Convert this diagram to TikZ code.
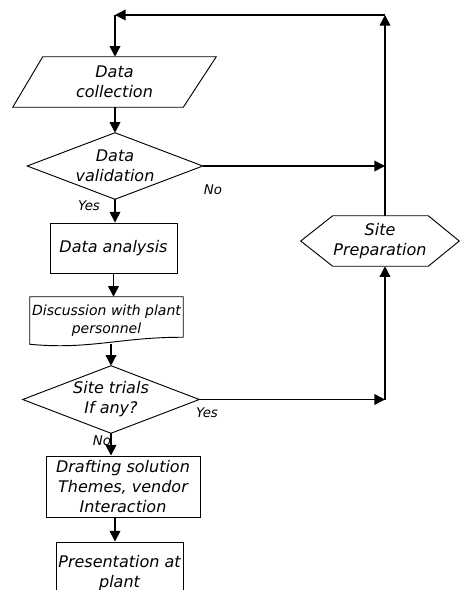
\documentclass[tikz,border=0pt]{standalone}
\usepackage{fontspec}
\setmainfont{DejaVu Sans}
\usetikzlibrary{arrows.meta}
\begin{document}
\begin{tikzpicture}[x=0.75pt,y=-0.75pt,
  area/.style={inner sep=0pt,align=center,font=\itshape\fontsize{12}{15}\selectfont},
  smallarea/.style={inner sep=0pt,align=center,font=\itshape\fontsize{10.5}{13.5}\selectfont},
  lbl/.style={inner sep=0pt,font=\itshape\fontsize{10}{12}\selectfont},
  outline/.style={line width=0.7pt},
  arr/.style={line width=1.2pt,-{Triangle[length=8pt,width=8pt]}}]
\useasboundingbox (0,0) rectangle (460,590);
\clip (0,0) rectangle (460,590);
% nodes
\node[area,minimum width=152.25pt,minimum height=37.5pt] (dc) at (114.5,82) {Data\\collection};
\node[area,minimum width=131.25pt,minimum height=49.5pt] (dv) at (115,166) {Data\\validation};
\node[area,draw,outline,minimum width=95.25pt,minimum height=37.5pt] (da) at (113.5,248) {Data analysis};
\node[smallarea,minimum width=114.75pt,minimum height=35.25pt] (dp) at (106.5,320.5) {Discussion with plant\\personnel};
\node[area,minimum width=132pt,minimum height=50.25pt] (st) at (111,399.5) {Site trials\\If any?};
\node[area,draw,outline,minimum width=115.5pt,minimum height=45.75pt] (ds) at (123,486.5) {Drafting solution\\Themes, vendor\\Interaction};
\node[area,draw,outline,minimum width=95.25pt,minimum height=43.5pt,text depth=0pt] (pr) at (119.5,571) {\raisebox{8pt}{\begin{tabular}{@{}c@{}}Presentation at\\plant\end{tabular}}};
\node[area,minimum width=118.5pt,minimum height=37.5pt] (sp) at (380,241) {Site\\Preparation};
% outlines
\draw[outline] ([xshift=22.5pt]dc.north west) -- (dc.north east) -- ([xshift=-24.75pt]dc.south east) -- (dc.south west) -- cycle;
\draw[outline] (dv.north) -- (dv.east) -- (dv.south) -- (dv.west) -- cycle;
\draw[outline] (st.north) -- (st.east) -- (st.south) -- (st.west) -- cycle;
\draw[outline] (dp.north west) -- (dp.north east) -- ([yshift=5.25pt]dp.south east)
  .. controls (120,337) and (90,350) .. (dp.south west) -- cycle;
\draw[outline] (sp.west) -- ([xshift=24pt]sp.north west) -- ([xshift=-23.25pt]sp.north east) -- (sp.east)
  -- ([xshift=-23.25pt]sp.south east) -- ([xshift=24pt]sp.south west) -- cycle;
% labels
\node[lbl] (no1) at (213,190) {No};
\node[lbl] (yes1) at (89,206) {Yes};
\node[lbl] (yes2) at (207,413) {Yes};
\node[lbl] (no2) at (102,441) {No};
% connectors
\coordinate (c1) at (115,15);
\coordinate (c2) at (385,15);
\coordinate (c3) at (385,399.5);
\draw[arr] (c2 |- sp.north) -- (c2);
\draw[arr] (c2) -- (c1);
\draw[arr] (c1) -- (c1 |- dc.north);
\draw[arr] (c1 |- dc.south) -- (dv.north);
\draw[arr] (dv.east) -- (c2 |- dv.east);
\draw[arr] (dv.south) -- (dv.south |- da.north);
\draw[arr] (da.south) -- (da.south |- dp.north);
\draw[arr] (st.north |- dp.south) -- (st.north);
\draw[arr] (st.east) -- (c3);
\draw[arr] (c3) -- (c3 |- sp.south);
\draw[arr] (st.south) -- (st.south |- ds.north);
\draw[arr] (c1 |- ds.south) -- (c1 |- pr.north);
\end{tikzpicture}
\end{document}
